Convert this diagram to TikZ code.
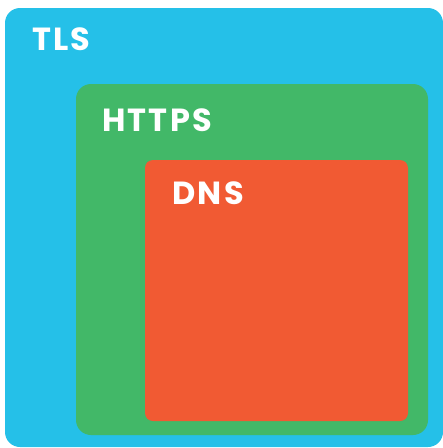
\documentclass[tikz,border=0pt]{standalone}
\usepackage{fontspec}
\setmainfont{Poppins}
\newfontfamily\labelfont[LetterSpace=7]{Poppins Bold}
\usepackage{tikz}
\usetikzlibrary{positioning}
\definecolor{tlsblue}{HTML}{25C0E8}
\definecolor{httpsgreen}{HTML}{42B868}
\definecolor{dnsred}{HTML}{F15A33}
\tikzset{layer/.style={rounded corners=#1, draw=none},
layer/.default={15pt},
layertitle/.style={anchor=base west, inner sep=0pt, text=white, font=\labelfont\fontsize{32}{34}\selectfont}}

\begin{document}
\begin{tikzpicture}[x=1pt, y=-1pt]
        \useasboundingbox (0,0) rectangle (443,448);
        \fill[layer, tlsblue] (5,8) rectangle (443,447);
        \fill[layer, httpsgreen] (76,84) rectangle (428,435);
        \fill[layer=8pt, dnsred] (145,160) rectangle (408,421);
        \node[layertitle] (tls) at (32,50) {TLS};
        \node[layertitle] (https) at (102,131) {HTTPS};
        \node[layertitle] (dns) at (172,204) {DNS};
\end{tikzpicture}
\end{document}
